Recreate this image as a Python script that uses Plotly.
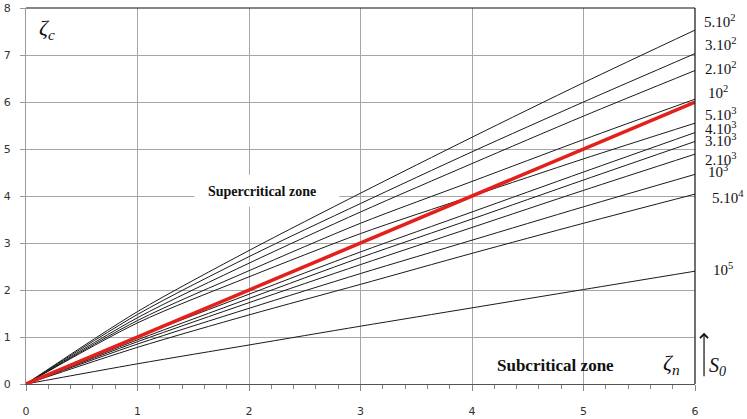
import plotly.graph_objects as go

# Relative normal depth (horizontal axis)
ZETA_N = [0, 1, 2, 3, 4, 5, 6]

# Curve labels (slope parameter S0), top to bottom
S0_LABELS = ["5.10<sup>2</sup>", "3.10<sup>2</sup>", "2.10<sup>2</sup>", "10<sup>2</sup>",
             "5.10<sup>3</sup>", "4.10<sup>3</sup>", "3.10<sup>3</sup>", "2.10<sup>3</sup>",
             "10<sup>3</sup>", "5.10<sup>4</sup>", "10<sup>5</sup>"]

# Relative critical depth for each curve at ZETA_N
C_5E2 = [0, 1.54, 2.84, 4.06, 5.25, 6.41, 7.53]
C_3E2 = [0, 1.48, 2.71, 3.84, 4.94, 6.00, 7.03]
C_2E2 = [0, 1.41, 2.57, 3.66, 4.69, 5.70, 6.67]
C_1E2 = [0, 1.35, 2.41, 3.42, 4.31, 5.20, 6.06]
C_5E3 = [0, 1.30, 2.28, 3.20, 4.00, 4.79, 5.55]
C_4E3 = [0, 1.00, 1.91, 2.81, 3.66, 4.51, 5.35]
C_3E3 = [0, 0.94, 1.82, 2.69, 3.51, 4.34, 5.16]
C_2E3 = [0, 0.90, 1.73, 2.54, 3.33, 4.12, 4.89]
C_1E3 = [0, 0.85, 1.61, 2.35, 3.06, 3.77, 4.46]
C_5E4 = [0, 0.78, 1.47, 2.12, 2.78, 3.42, 4.04]
C_1E5 = [0, 0.43, 0.83, 1.23, 1.62, 2.01, 2.40]

CURVES = [C_5E2, C_3E2, C_2E2, C_1E2, C_5E3, C_4E3, C_3E3, C_2E3, C_1E3, C_5E4, C_1E5]

# Critical line: zeta_c = zeta_n
CRITICAL = [0, 1, 2, 3, 4, 5, 6]

# Label anchors beside the right edge (paper coordinates)
LABEL_Y = [0.965, 0.904, 0.840, 0.777, 0.718, 0.681, 0.649, 0.598, 0.567, 0.497, 0.306]
LABEL_X = [1.010, 1.012, 1.012, 1.016, 1.012, 1.012, 1.012, 1.012, 1.016, 1.022, 1.024]

SERIF = "Liberation Serif"

fig = go.Figure()

for vals in CURVES:
    fig.add_trace(go.Scatter(
        x=ZETA_N, y=vals, mode="lines",
        line=dict(color="#1a1a1a", width=1, shape="spline", smoothing=0.8),
        showlegend=False, hoverinfo="skip"))

fig.add_trace(go.Scatter(
    x=ZETA_N, y=CRITICAL, mode="lines",
    line=dict(color="#e3201b", width=3.5),
    showlegend=False, hoverinfo="skip"))

annotations = []
for lab, ly, lx in zip(S0_LABELS, LABEL_Y, LABEL_X):
    annotations.append(dict(
        x=lx, y=ly, xref="paper", yref="paper", text=lab, showarrow=False,
        xanchor="left", yanchor="middle",
        font=dict(family=SERIF, size=15, color="#111")))

annotations += [
    dict(x=0.19, y=7.55, xref="x", yref="y", text="<i>ζ<sub>c</sub></i>",
         showarrow=False, font=dict(family=SERIF, size=22, color="#111")),
    dict(x=5.79, y=0.43, xref="x", yref="y", text="<i>ζ<sub>n</sub></i>",
         showarrow=False, font=dict(family=SERIF, size=22, color="#111")),
    dict(x=4.75, y=0.40, xref="x", yref="y", text="<b>Subcritical zone</b>",
         showarrow=False, font=dict(family=SERIF, size=17, color="#111")),
    dict(x=2.12, y=4.1, xref="x", yref="y", text="<b>Supercritical zone</b>",
         showarrow=False, font=dict(family=SERIF, size=14, color="#111")),
    dict(x=1.049, y=0.008, xref="paper", yref="paper", text="<i>S<sub>0</sub></i>",
         showarrow=False, font=dict(family=SERIF, size=20, color="#111")),
    # upward arrow beside S0
    dict(x=1.0135, y=0.136, xref="paper", yref="paper", ax=0, ay=45, text="",
         showarrow=True, arrowhead=4, arrowsize=1.3, arrowwidth=1.2,
         arrowcolor="#111"),
]

shapes = [
    # white box behind the supercritical label
    dict(type="rect", xref="x", yref="y", x0=1.51, x1=2.81, y0=3.77, y1=4.45,
         fillcolor="white", line=dict(width=0), layer="between"),
    # black frame on top and right
    dict(type="line", xref="paper", yref="paper", x0=0, x1=1, y0=1, y1=1,
         line=dict(color="#111", width=1.2)),
    dict(type="line", xref="paper", yref="paper", x0=1, x1=1, y0=0, y1=1,
         line=dict(color="#111", width=1.2)),
]

fig.update_layout(
    width=747, height=419,
    margin=dict(l=26, r=52, t=8, b=35),
    paper_bgcolor="white", plot_bgcolor="white",
    annotations=annotations, shapes=shapes,
    xaxis=dict(range=[0, 6], dtick=1, showgrid=True, gridcolor="#a6a6a6", gridwidth=1,
               zeroline=False, showline=True, linecolor="#555", linewidth=1,
               ticks="outside", ticklen=6, tickcolor="#888",
               minor=dict(dtick=0.2, ticks="outside", ticklen=4, tickcolor="#888", showgrid=False),
               tickfont=dict(family="DejaVu Sans", size=11, color="#333"),
               ticklabelstandoff=11, automargin=False),
    yaxis=dict(range=[0, 8], dtick=1, showgrid=True, gridcolor="#a6a6a6", gridwidth=1,
               zeroline=False, showline=True, linecolor="#999", linewidth=1,
               ticks="outside", ticklen=5, tickcolor="#999",
               tickfont=dict(family="DejaVu Sans", size=11, color="#333"),
               ticklabelstandoff=7, automargin=False),
)

fig.write_html("out.html")
